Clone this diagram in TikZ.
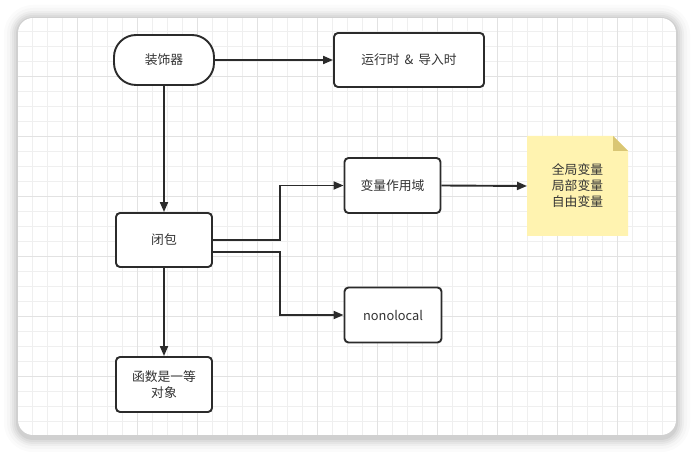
\documentclass[tikz,border=0pt]{standalone}
\usepackage{fontspec}
\setmainfont{Noto Sans CJK SC}
\usetikzlibrary{arrows.meta}
\definecolor{ink}{HTML}{2B2B2B}
\definecolor{txt}{HTML}{333333}
\definecolor{gridminor}{HTML}{EFEFEF}
\definecolor{gridmajor}{HTML}{E2E2E2}
\definecolor{notefill}{HTML}{FFF3B0}
\definecolor{notefold}{HTML}{D9C674}
\tikzset{
  box/.style={draw=ink, line width=1.9pt, rounded corners=4pt, fill=white,
    minimum width=96pt, minimum height=54pt, text=txt,
    font=\fontsize{12.8}{16}\selectfont, align=center, inner sep=2pt},
  conn/.style={draw=ink, line width=1.9pt, -{Triangle[length=10pt,width=8pt]}},
}
\begin{document}
\begin{tikzpicture}[x=1pt,y=-1pt]
\useasboundingbox (0,0) rectangle (694,454);
\fill[white] (0,0) rectangle (694,454);
% shadow
\foreach \i/\o in {14/0.015,11/0.02,8/0.03,6/0.035,4/0.04,2/0.05}{
  \fill[black, opacity=\o, rounded corners=15+\i] (18-\i,19-\i) rectangle (676+\i,438+\i);
}
% frame with grid
\begin{scope}
\clip[rounded corners=15] (18,18) rectangle (676,435);
\fill[white] (18,18) rectangle (676,435);
\foreach \x in {32,47,...,662} \draw[gridminor, line width=0.8pt] (\x,18) -- (\x,435);
\foreach \y in {31,46,...,430} \draw[gridminor, line width=0.8pt] (18,\y) -- (676,\y);
\foreach \x in {77,137,...,662} \draw[gridmajor, line width=0.9pt] (\x,18) -- (\x,435);
\foreach \y in {76,136,...,430} \draw[gridmajor, line width=0.9pt] (18,\y) -- (676,\y);
\end{scope}
% nodes
\node[box, rounded corners=22pt, minimum width=100pt, minimum height=50pt] (deco) at (164,60) {装饰器};
\node[box, minimum width=150pt, minimum height=54pt] (rt) at (409,60) {运行时\ \,\&\ \,导入时};
\node[box] (bibao) at (164,240) {闭包};
\node[box, minimum width=96pt, minimum height=55pt] (scope) at (392.5,185.5) {变量作用域};
\node[box, minimum width=97pt, minimum height=55pt] (nonlocal) at (393,315) {nonolocal};
\node[box, minimum height=55pt] (func) at (164,384.5) {函数是一等\\对象};
% sticky note
\node[minimum width=101pt, minimum height=100pt, outer sep=0pt, inner sep=0pt] (note) at (577.5,186) {};
\fill[notefill] (note.north west) -- ([xshift=-15pt]note.north east) -- ([yshift=-15pt]note.north east) -- (note.south east) -- (note.south west) -- cycle;
\fill[notefold] ([xshift=-15pt]note.north east) -- ([yshift=-15pt]note.north east) -- ([xshift=-15pt,yshift=-15pt]note.north east) -- cycle;
\node[text=txt, font=\fontsize{12.8}{16}\selectfont, align=center] (notetext) at (note.center) {全局变量\\局部变量\\自由变量};
% connectors
\draw[conn] (deco.east) -- (rt.west);
\draw[conn] (deco.south) -- (bibao.north);
\draw[conn] (bibao.east) -- ++(67,0) |- (scope.west);
\draw[conn] ([yshift=-12pt]bibao.east) -- ++(67,0) |- (nonlocal.west);
\draw[conn] (scope.east) -- (note.west);
\draw[conn] (bibao.south) -- (func.north);
\end{tikzpicture}
\end{document}
